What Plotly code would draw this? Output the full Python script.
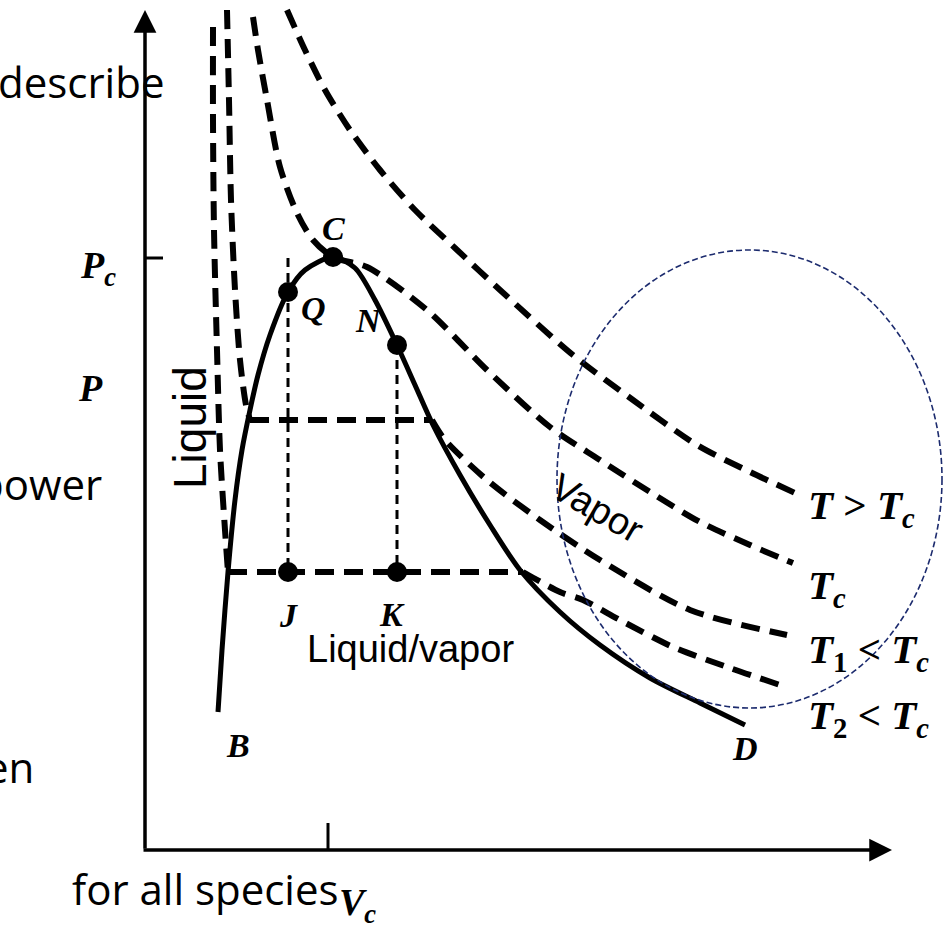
import plotly.graph_objects as go

# ---------------- data (V, P in arbitrary units) ----------------
dome_V = [0.73, 0.77, 0.83, 0.90, 0.97, 1.05, 1.13, 1.25, 1.43, 1.60, 1.88, 2.10, 2.30, 2.52, 2.70, 2.88, 3.15, 3.45, 3.75, 4.15, 4.55, 5.05, 5.55, 6.00]
dome_P = [1.38, 2.00, 2.78, 3.50, 4.00, 4.40, 4.75, 5.15, 5.58, 5.80, 5.93, 5.82, 5.50, 5.05, 4.65, 4.25, 3.75, 3.25, 2.80, 2.38, 2.05, 1.72, 1.47, 1.25]

tsup_V = [1.42, 1.60, 1.80, 2.05, 2.35, 2.70, 3.10, 3.55, 4.28, 4.88, 5.52, 6.05, 6.50]
tsup_P = [8.40, 8.00, 7.60, 7.20, 6.80, 6.40, 6.02, 5.60, 4.95, 4.50, 4.05, 3.78, 3.57]

tc_V = [1.08, 1.13, 1.22, 1.35, 1.52, 1.68, 1.88, 2.22, 2.82, 3.42, 4.05, 4.55, 5.05, 5.55, 6.05, 6.48]
tc_P = [8.33, 8.00, 7.50, 6.83, 6.37, 6.10, 5.93, 5.83, 5.40, 4.80, 4.23, 3.90, 3.58, 3.28, 3.05, 2.87]

t1_liq_V = [0.82, 0.84, 0.86, 0.90, 0.95, 1.01, 1.05]
t1_liq_P = [8.40, 7.50, 6.50, 5.60, 4.90, 4.45, 4.30]
t1_tie_V = [1.05, 2.87]
t1_tie_P = [4.30, 4.30]
t1_vap_V = [2.87, 3.00, 3.42, 3.95, 4.55, 5.45, 6.42]
t1_vap_P = [4.30, 4.10, 3.70, 3.30, 2.90, 2.40, 2.15]

t2_liq_V = [0.68, 0.68, 0.69, 0.72, 0.75, 0.80, 0.83]
t2_liq_P = [8.23, 7.30, 6.20, 5.00, 4.00, 3.20, 2.78]
t2_tie_V = [0.83, 3.78]
t2_tie_P = [2.78, 2.78]
t2_vap_V = [3.78, 4.15, 4.38, 4.75, 5.28, 5.85, 6.35]
t2_vap_P = [2.78, 2.58, 2.50, 2.30, 2.03, 1.82, 1.65]

point_names = ["Q", "C", "N", "J", "K"]
point_V = [1.43, 1.88, 2.52, 1.43, 2.52]
point_P = [5.58, 5.93, 5.05, 2.78, 2.78]

Pc = 5.92
Vc = 1.83
P_axis_top = 8.40
V_axis_end = 7.47

iso_labels = ["<i>T</i> > <i>T<sub>c</sub></i>", "<i>T<sub>c</sub></i>",
              "<i>T</i><sub>1</sub> < <i>T<sub>c</sub></i>", "<i>T</i><sub>2</sub> < <i>T<sub>c</sub></i>"]
iso_label_V = [6.61, 6.61, 6.61, 6.61]
iso_label_P = [3.42, 2.62, 1.98, 1.32]

# ---------------- figure ----------------
fig = go.Figure()
BLACK = "#000000"
iso_dash = "19px,10px"

def add_line(V, P, width=6, dash=iso_dash, shape="spline"):
    fig.add_trace(go.Scatter(x=V, y=P, mode="lines",
                             line=dict(color=BLACK, width=width, dash=dash, shape=shape, smoothing=0.8),
                             hoverinfo="skip", showlegend=False))

add_line(tsup_V, tsup_P)
add_line(tc_V, tc_P)
add_line(t1_liq_V, t1_liq_P)
add_line(t1_tie_V, t1_tie_P, shape="linear")
add_line(t1_vap_V, t1_vap_P)
add_line(t2_liq_V, t2_liq_P)
add_line(t2_tie_V, t2_tie_P, shape="linear")
add_line(t2_vap_V, t2_vap_P)

# dotted verticals Q-J and N-K
add_line([point_V[0], point_V[3]], [Pc, point_P[3]], width=3, dash="9px,6px", shape="linear")
add_line([point_V[2], point_V[4]], [point_P[2], point_P[4]], width=3, dash="9px,6px", shape="linear")

# saturation dome
fig.add_trace(go.Scatter(x=dome_V, y=dome_P, mode="lines",
                         line=dict(color=BLACK, width=5, shape="spline", smoothing=0.8),
                         hoverinfo="skip", showlegend=False))

# points
fig.add_trace(go.Scatter(x=point_V, y=point_P, mode="markers",
                         marker=dict(color=BLACK, size=20),
                         hoverinfo="skip", showlegend=False))

serif = dict(family="Liberation Serif", color=BLACK, size=34)
ann = []
def lab(text, V, P, font=serif, **kw):
    ann.append(dict(x=V, y=P, xref="x", yref="y", text=text, showarrow=False, font=font, **kw))

# point labels
lab("<b><i>C</i></b>", 1.88, 6.22)
lab("<b><i>Q</i></b>", 1.68, 5.42)
lab("<b><i>N</i></b>", 2.23, 5.30)
lab("<b><i>J</i></b>", 1.43, 2.35)
lab("<b><i>K</i></b>", 2.47, 2.36)
lab("<b><i>B</i></b>", 0.93, 1.05)
lab("<b><i>D</i></b>", 6.00, 1.02)
lab("<b><i>P<sub>c</sub></i></b>", -0.47, 5.82, font=dict(family="Liberation Serif", color=BLACK, size=38))
lab("<b><i>P</i></b>", -0.55, 4.62, font=dict(family="Liberation Serif", color=BLACK, size=38))
lab("<b><i>V<sub>c</sub></i></b>", 2.12, -0.55, font=dict(family="Liberation Serif", color=BLACK, size=38))
for t, v, p in zip(iso_labels, iso_label_V, iso_label_P):
    lab("<b>" + t + "</b>", v, p, font=dict(family="Liberation Serif", color=BLACK, size=41), xanchor="left")

lab("Liquid/vapor", 2.65, 2.01, font=dict(family="Liberation Sans", color=BLACK, size=38))
lab("Liquid", 0.45, 4.22, font=dict(family="Liberation Sans", color=BLACK, size=46), textangle=-90)
lab("Vapor", 4.52, 3.42, font=dict(family="Liberation Sans", color=BLACK, size=38), textangle=30)

# axes arrows
ann.append(dict(x=0, y=P_axis_top, ax=0, ay=0, xref="x", yref="y", axref="x", ayref="y",
                showarrow=True, arrowhead=2, arrowsize=1.3, arrowwidth=3.5, arrowcolor=BLACK, text=""))
ann.append(dict(x=V_axis_end, y=0, ax=-0.03, ay=0, xref="x", yref="y", axref="x", ayref="y",
                showarrow=True, arrowhead=2, arrowsize=1.3, arrowwidth=3.5, arrowcolor=BLACK, text=""))

# slide text behind the picture (partly cut at the left edge)
slide = dict(family="Open Sans", color=BLACK, size=42)
W, H = 943, 930
for txt, xr, yc in [("describe", 166, 82), ("power", 104, 484), ("en", 36, 766), ("for all species", 341, 888)]:
    ann.append(dict(x=xr / W, y=1 - yc / H, xref="paper", yref="paper", text=txt, showarrow=False,
                    font=slide, xanchor="right", yanchor="middle"))

shapes = [
    dict(type="line", xref="x", yref="y", x0=0, x1=0.18, y0=Pc, y1=Pc, line=dict(color=BLACK, width=3)),
    dict(type="line", xref="x", yref="y", x0=Vc, x1=Vc, y0=0, y1=0.27, line=dict(color=BLACK, width=3)),
    dict(type="circle", xref="x", yref="y", x0=4.12, x1=7.97, y0=1.42, y1=6.00,
         line=dict(color="#1c2b6e", width=1.6, dash="6px,3px")),
]

fig.update_layout(
    width=W, height=H, margin=dict(l=0, r=0, t=0, b=0),
    paper_bgcolor="white", plot_bgcolor="white",
    xaxis=dict(range=[-1.45, 7.98], visible=False, fixedrange=True),
    yaxis=dict(range=[-0.80, 8.50], visible=False, fixedrange=True),
    annotations=ann, shapes=shapes, showlegend=False,
)
fig.write_html("out.html", config={"displayModeBar": False},
               post_script="document.body.style.margin='0';document.body.style.overflow='hidden';")
